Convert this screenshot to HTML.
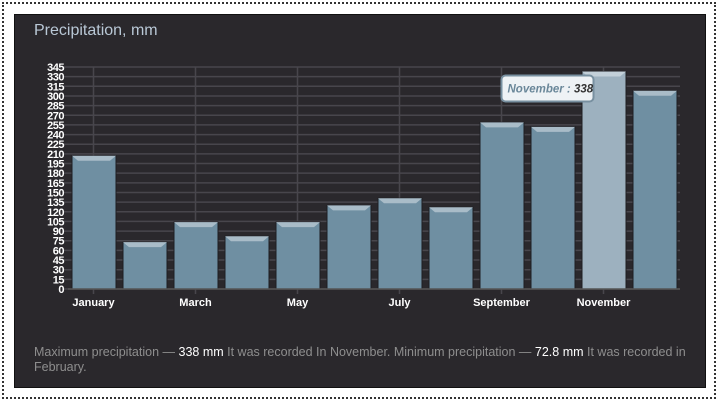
<!DOCTYPE html>
<html><head><meta charset="utf-8"><style>
body{margin:0;width:720px;height:403px;background:#fff;font-family:"Liberation Sans",sans-serif;overflow:hidden}
#frame{position:absolute;left:2px;top:2px;width:714px;height:397px;border:2px dotted #333;box-sizing:border-box}
#panel{position:absolute;left:14px;top:14px;width:692px;height:374px;background:#2a282c;border:1px solid #111;box-sizing:border-box}
#title{position:absolute;left:34px;top:22px;color:#b9c8d6;font-size:16px}
#note{position:absolute;left:34px;top:345px;width:660px;color:#8e8e8e;font-size:12.5px;line-height:15px}
#note b{color:#fff;font-weight:normal}
svg{position:absolute;left:0;top:0}
</style></head><body>
<div id="frame"></div>
<div id="panel"></div>
<div id="title">Precipitation, mm</div>
<svg id="chart" width="720" height="403"></svg>
<div id="note">Maximum precipitation — <b>338 mm</b> It was recorded In November. Minimum precipitation — <b>72.8 mm</b> It was recorded in February.</div>
<script>
const months=["January","February","March","April","May","June","July","August","September","October","November","December"];
const values=[207,72.8,104,82,104,130,141,127,259,252,338,308];
const yTicks=[0,15,30,45,60,75,90,105,120,135,150,165,180,195,210,225,240,255,270,285,300,315,330,345];
const highlight="November";
const svg=document.getElementById('chart');const NS="http://www.w3.org/2000/svg";
const x0=68,bw=51,y0=289,yMax=345,yTop=67;
const Y=v=>y0-(v/yMax)*(y0-yTop);
const X=i=>x0+i*bw;
function el(t,a,p){const e=document.createElementNS(NS,t);for(const k in a)e.setAttribute(k,a[k]);(p||svg).appendChild(e);return e;}
const defs=el('defs',{});
yTicks.forEach(t=>{
 const l=el('line',{x1:x0-4,x2:680,y1:Y(t),y2:Y(t),stroke:'#48464c','stroke-width':1.5});
 
 const tx=el('text',{x:x0-4,y:Y(t)+4,'text-anchor':'end',fill:'#fff','font-size':11,'font-weight':'bold','letter-spacing':'-0.5'});
 tx.textContent=t;
});
months.forEach((m,i)=>{
 if(i%2===0){
  const g=el('line',{x1:X(i)+bw/2,x2:X(i)+bw/2,y1:yTop,y2:y0+5,stroke:'#48464c','stroke-width':1.5});
  
  const t=el('text',{x:X(i)+bw/2,y:y0+17,'text-anchor':'middle',fill:'#fff','font-size':11,'font-weight':'bold'});
  t.textContent=m;
 }
});
months.forEach((m,i)=>{
 const v=values[i],bx=X(i)+4,w=bw-7,by=Y(v),h=y0-by;
 const hl=m===highlight;
 const r=el('rect',{x:bx,y:by,width:w,height:h,fill:hl?'#9db1bf':'#6f8fa2',stroke:'#1e1e22','stroke-width':1});
 
 const p=el('polygon',{points:`${bx},${by} ${bx+w},${by} ${bx+w-6},${by+5} ${bx+6},${by+5}`,fill:hl?'#c3d0d9':'#a9bcc8'});
 
});
const ax=el('line',{x1:x0,x2:680,y1:y0,y2:y0,stroke:'#555','stroke-width':1.5});

const hi=months.indexOf(highlight);
const tg=el('g',{});
const tw=92,tx=X(hi)+bw/2-tw-10,ty=Y(values[hi])+4;
el('rect',{x:tx,y:ty,width:tw,height:26,rx:4,fill:'#eef2f5',stroke:'#7890a0','stroke-width':2},tg);
const tt=el('text',{x:tx+6,y:ty+17,fill:'#6a8799','font-size':11.5,'font-style':'italic','font-weight':'bold'},tg);
tt.textContent=highlight+" : ";
const ts=el('tspan',{fill:'#333'},tt);ts.textContent=" "+values[hi];
</script>
</body></html>
